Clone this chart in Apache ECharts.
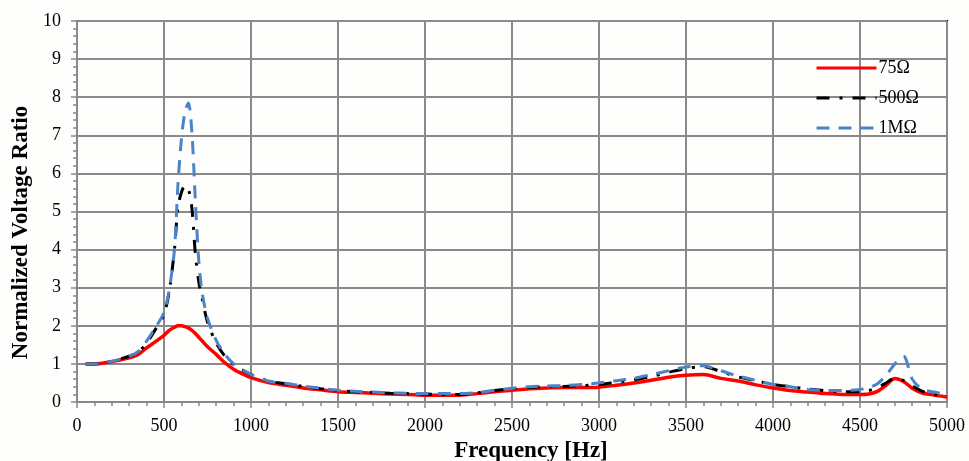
<!DOCTYPE html>
<html>
<head>
<meta charset="utf-8">
<script src="https://cdn.jsdelivr.net/npm/echarts@6/dist/echarts.min.js"></script>
<style>
html,body{margin:0;padding:0;background:#fefefc;}
#chart{width:969px;height:461px;}
</style>
</head>
<body>
<div id="chart"></div>
<script>
const freq = [50,100,200,300,350,400,450,500,530,560,580,600,620,640,660,680,700,720,750,800,850,900,950,1000,1100,1200,1300,1400,1500,1600,1700,1800,1900,2000,2100,2200,2300,2400,2500,2600,2700,2800,2900,3000,3100,3200,3300,3400,3500,3600,3700,3800,3900,4000,4100,4200,4300,4400,4500,4550,4600,4650,4700,4750,4800,4850,4900,5000];

const r75 = [1.0,1.0,1.06,1.16,1.24,1.42,1.58,1.75,1.88,1.96,2.0,2.0,1.98,1.94,1.88,1.8,1.7,1.6,1.45,1.25,1.03,0.86,0.74,0.64,0.51,0.44,0.37,0.32,0.27,0.25,0.23,0.21,0.2,0.18,0.18,0.18,0.22,0.27,0.31,0.35,0.37,0.38,0.38,0.39,0.44,0.5,0.57,0.65,0.7,0.72,0.62,0.55,0.45,0.37,0.3,0.26,0.22,0.2,0.2,0.21,0.28,0.44,0.62,0.54,0.36,0.25,0.2,0.13];

const r500 = [1.0,1.0,1.07,1.2,1.3,1.55,1.9,2.3,2.9,4.0,5.1,5.5,5.68,5.6,5.1,3.9,3.15,2.7,2.1,1.55,1.2,0.98,0.84,0.72,0.55,0.48,0.41,0.35,0.3,0.27,0.25,0.23,0.22,0.21,0.2,0.2,0.24,0.3,0.35,0.38,0.4,0.41,0.43,0.46,0.52,0.58,0.67,0.78,0.88,0.93,0.8,0.66,0.56,0.46,0.4,0.34,0.3,0.27,0.27,0.3,0.38,0.5,0.63,0.56,0.42,0.3,0.22,0.16];

const r1M = [1.0,1.0,1.07,1.2,1.32,1.6,1.95,2.35,2.95,4.0,5.7,6.9,7.6,7.85,7.1,5.3,3.7,2.85,2.2,1.62,1.25,1.0,0.85,0.72,0.55,0.49,0.42,0.36,0.31,0.28,0.26,0.24,0.23,0.22,0.22,0.22,0.25,0.31,0.36,0.4,0.42,0.43,0.46,0.5,0.56,0.62,0.72,0.82,0.92,0.95,0.82,0.68,0.57,0.46,0.4,0.33,0.3,0.3,0.33,0.38,0.48,0.7,1.0,1.2,0.6,0.36,0.28,0.2];

const seriesNames = ['75\u03A9','500\u03A9','1M\u03A9'];
const xTicks = [0,500,1000,1500,2000,2500,3000,3500,4000,4500,5000];
const yTicks = [0,1,2,3,4,5,6,7,8,9,10];

function pairs(v){ return freq.map((f,i)=>[f,v[i]]); }

const font = '"Liberation Serif","Times New Roman",serif';
const chart = echarts.init(document.getElementById('chart'));
chart.setOption({
  backgroundColor:'#fefefc',
  animation:false,
  grid:{left:77,right:22,top:21,bottom:59,containLabel:false,outerBoundsMode:'none',
        show:true,borderColor:'#000',borderWidth:2,backgroundColor:'transparent'},
  legend:{
    orient:'vertical', left:810, top:54, itemWidth:60, itemHeight:14, itemGap:12,
    itemStyle:{opacity:0},
    lineStyle:{width:3},
    textStyle:{fontFamily:font,fontSize:18,color:'#000',padding:[0,0,0,-3]},
    data:seriesNames
  },
  xAxis:{
    type:'value', min:xTicks[0], max:xTicks[xTicks.length-1], interval:500,
    name:'Frequency [Hz]', nameLocation:'middle', nameGap:33,
    nameTextStyle:{fontFamily:font,fontSize:23,fontWeight:'bold',color:'#000',padding:[0,0,0,38]},
    axisLine:{lineStyle:{color:'#888',width:2}},
    axisTick:{show:true,length:6,lineStyle:{color:'#888',width:1.5}},
    minorTick:{show:true,splitNumber:5,length:4,lineStyle:{color:'#888',width:1.5}},
    axisLabel:{fontFamily:font,fontSize:18,color:'#000',margin:15,formatter:function(v){return String(v);}},
    splitLine:{show:true,lineStyle:{color:'#8a8a8a',width:2}}
  },
  yAxis:{
    type:'value', min:yTicks[0], max:yTicks[yTicks.length-1], interval:1,
    name:'Normalized Voltage Ratio', nameLocation:'middle', nameGap:42,
    nameTextStyle:{fontFamily:font,fontSize:23,fontWeight:'bold',color:'#000',padding:[0,42,0,0]},
    axisLine:{show:true,lineStyle:{color:'#888',width:2}},
    axisTick:{show:true,length:6,lineStyle:{color:'#888',width:1.5}},
    minorTick:{show:true,splitNumber:5,length:4,lineStyle:{color:'#888',width:1.5}},
    axisLabel:{fontFamily:font,fontSize:18,color:'#000',margin:16},
    splitLine:{show:true,lineStyle:{color:'#8a8a8a',width:2}}
  },
  series:[
    {name:seriesNames[0],type:'line',data:pairs(r75),symbol:'none',smooth:0.3,
     lineStyle:{color:'#ff0000',width:3.5},itemStyle:{color:'#ff0000'},z:3},
    {name:seriesNames[1],type:'line',data:pairs(r500),symbol:'none',smooth:0.3,
     lineStyle:{color:'#000000',width:3,type:[13,10,3,10]},itemStyle:{color:'#000'},z:4},
    {name:seriesNames[2],type:'line',data:pairs(r1M),symbol:'none',smooth:0.3,
     lineStyle:{color:'#4a84c6',width:3,type:[13,9]},itemStyle:{color:'#4a84c6'},z:5}
  ]
});
</script>
</body>
</html>
